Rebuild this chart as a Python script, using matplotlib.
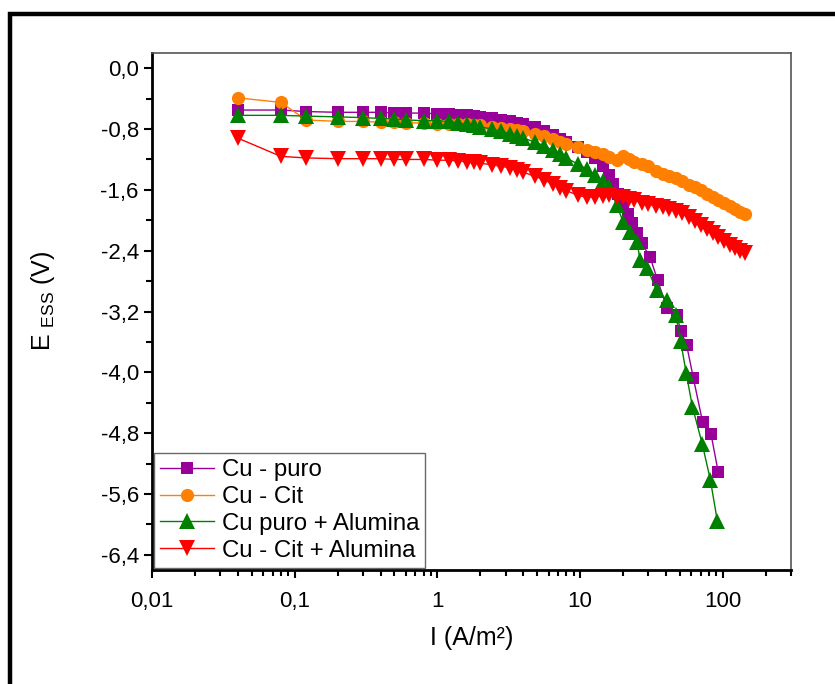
import matplotlib.pyplot as plt
from matplotlib.patches import Rectangle
from matplotlib.ticker import FixedLocator, LogLocator, NullFormatter, FuncFormatter

plt.rcParams['font.family'] = ['Liberation Sans', 'DejaVu Sans']
plt.rcParams['mathtext.fontset'] = 'custom'
plt.rcParams['mathtext.rm'] = 'Liberation Sans'

# ---------- dados (I em A/m², E em V) ----------
i_puro = [0.04, 0.08, 0.12, 0.2, 0.3, 0.4, 0.5, 0.6, 0.8, 1.0, 1.2, 1.4, 1.6, 1.8, 2.0,
          2.4, 2.8, 3.2, 3.6, 4.0, 4.8, 5.6, 6.4, 7.2, 8.0, 9.6, 11.2, 12.8, 14.4, 16,
          17, 18.5, 20, 21.5, 23, 25, 27, 30.8, 34.9, 40.4, 47.5, 50.8, 55.7, 62, 72,
          82.5, 92.7]
e_puro = [-0.55, -0.55, -0.57, -0.58, -0.58, -0.58, -0.59, -0.59, -0.59, -0.60, -0.60,
          -0.61, -0.62, -0.63, -0.64, -0.66, -0.68, -0.70, -0.72, -0.74, -0.77, -0.82,
          -0.88, -0.93, -0.97, -1.03, -1.10, -1.18, -1.28, -1.40, -1.52, -1.66, -1.80,
          -1.92, -2.04, -2.17, -2.30, -2.48, -2.79, -3.15, -3.25, -3.46, -3.64, -4.07,
          -4.65, -4.81, -5.31]

i_cit = [0.04, 0.08, 0.12, 0.2, 0.3, 0.4, 0.5, 0.6, 0.8, 1.0, 1.2, 1.4, 1.6, 1.8, 2.0,
         2.4, 2.8, 3.2, 3.6, 4.0, 4.8, 5.6, 6.4, 7.2, 8.0, 9.6, 11.2, 12.8, 14.4, 16,
         18, 20, 22, 24, 27, 30, 34, 38, 42, 47, 52, 58, 64, 70, 77, 85, 93, 102, 112,
         122, 132, 143]
e_cit = [-0.39, -0.45, -0.68, -0.70, -0.70, -0.71, -0.71, -0.72, -0.72, -0.73, -0.73,
         -0.74, -0.74, -0.75, -0.75, -0.77, -0.78, -0.80, -0.81, -0.83, -0.86, -0.89,
         -0.93, -0.97, -1.00, -1.04, -1.07, -1.10, -1.13, -1.17, -1.21, -1.16, -1.20,
         -1.23, -1.26, -1.29, -1.35, -1.39, -1.42, -1.45, -1.48, -1.53, -1.56, -1.60,
         -1.65, -1.69, -1.73, -1.77, -1.81, -1.85, -1.89, -1.92]

i_puro_al = [0.04, 0.08, 0.12, 0.2, 0.3, 0.4, 0.5, 0.6, 0.8, 1.0, 1.2, 1.4, 1.6, 1.8,
             2.0, 2.4, 2.8, 3.2, 3.6, 4.0, 4.8, 5.6, 6.4, 7.2, 8.0, 9.6, 11.2, 12.8,
             14.4, 16, 18, 20, 22.2, 25, 26.3, 29.5, 34.3, 40.4, 46.7, 50.6, 55.3, 61.1,
             71.6, 81.6, 91.5]
e_puro_al = [-0.62, -0.62, -0.63, -0.64, -0.65, -0.66, -0.67, -0.68, -0.69, -0.69,
             -0.70, -0.72, -0.74, -0.75, -0.77, -0.80, -0.83, -0.86, -0.89, -0.92,
             -0.97, -1.02, -1.08, -1.13, -1.18, -1.26, -1.33, -1.41, -1.48, -1.56,
             -1.80, -2.02, -2.15, -2.29, -2.52, -2.63, -2.92, -3.05, -3.25, -3.59,
             -4.01, -4.45, -4.94, -5.41, -5.96]

i_cit_al = i_cit
e_cit_al = [-0.92, -1.16, -1.18, -1.19, -1.19, -1.19, -1.20, -1.20, -1.20, -1.21, -1.21,
            -1.22, -1.23, -1.24, -1.25, -1.27, -1.29, -1.31, -1.34, -1.37, -1.42, -1.47,
            -1.52, -1.57, -1.61, -1.67, -1.70, -1.69, -1.68, -1.67, -1.69, -1.70, -1.72,
            -1.74, -1.77, -1.79, -1.81, -1.83, -1.85, -1.88, -1.91, -1.96, -2.01, -2.06,
            -2.11, -2.17, -2.22, -2.27, -2.32, -2.36, -2.40, -2.43]

y_ticks = [0.0, -0.8, -1.6, -2.4, -3.2, -4.0, -4.8, -5.6, -6.4]

# ---------- figura ----------
fig = plt.figure(figsize=(8.35, 6.84), dpi=100)
ax = fig.add_axes([152 / 835, 1 - 570 / 684, 639 / 835, 517 / 684])

# moldura preta em volta do gráfico
fig.patches.append(Rectangle((10 / 835, -0.2), 1.2, 1.2 - 14 / 684,
                             transform=fig.transFigure, fill=False,
                             edgecolor='black', linewidth=3.2, zorder=0))

series = [
    (i_puro, e_puro, '#990099', 's', 8.5, 'Cu - puro'),
    (i_cit, e_cit, '#FF8000', 'o', 9.5, 'Cu - Cit'),
    (i_puro_al, e_puro_al, '#008000', '^', 11, 'Cu puro + Alumina'),
    (i_cit_al, e_cit_al, '#FF0000', 'v', 11, 'Cu - Cit + Alumina'),
]
for x, y, cor, mk, ms, nome in series:
    ax.plot(x, y, color=cor, marker=mk, markersize=ms, linewidth=1.0,
            markeredgewidth=0, label=nome)

ax.set_xscale('log')
ax.set_xlim(0.01, 300)
ax.set_ylim(-6.6, 0.2)

fmt = lambda v, pos: f'{v:g}'.replace('.', ',')
ax.xaxis.set_major_locator(LogLocator(base=10, numticks=10))
ax.xaxis.set_minor_locator(LogLocator(base=10, subs=range(2, 10), numticks=20))
ax.xaxis.set_major_formatter(FuncFormatter(fmt))
ax.xaxis.set_minor_formatter(NullFormatter())

ax.yaxis.set_major_locator(FixedLocator(y_ticks))
ax.yaxis.set_minor_locator(FixedLocator([v - 0.4 for v in y_ticks] + [0.0]))
ax.yaxis.set_major_formatter(FuncFormatter(lambda v, pos: f'{v:.1f}'.replace('.', ',')))

ax.tick_params(which='major', direction='out', length=6, width=1.5, labelsize=16,
               top=False, right=False)
ax.tick_params(axis='x', which='major', pad=9)
ax.tick_params(which='minor', direction='out', length=4, width=1.5,
               top=False, right=False)

for lado in ('left', 'bottom'):
    ax.spines[lado].set_linewidth(2.0)
for lado in ('top', 'right'):
    ax.spines[lado].set_linewidth(1.2)
    ax.spines[lado].set_color('#555555')

ax.set_xlabel('I (A/m²)', fontsize=18, labelpad=10)
ax.set_ylabel(r'E $_{\mathrm{ESS}}$ (V)', fontsize=18)
ax.yaxis.set_label_coords(-0.148, 0.52)

leg = ax.legend(loc='lower left', fontsize=17.3, frameon=True, fancybox=False,
                borderaxespad=0.1, handlelength=2.25, handletextpad=0.3,
                labelspacing=0.2, borderpad=0.25, edgecolor='#444444')
leg.get_frame().set_linewidth(1.0)

fig.savefig('out.png', dpi=100)
